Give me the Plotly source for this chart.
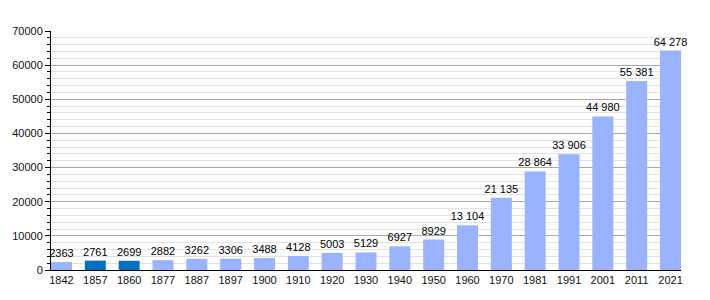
import plotly.graph_objects as go

years = ["1842", "1857", "1860", "1877", "1887", "1897", "1900", "1910", "1920", "1930",
         "1940", "1950", "1960", "1970", "1981", "1991", "2001", "2011", "2021"]
population = [2363, 2761, 2699, 2882, 3262, 3306, 3488, 4128, 5003, 5129,
              6927, 8929, 13104, 21135, 28864, 33906, 44980, 55381, 64278]
highlighted = ["1857", "1860"]

LIGHT = "#99b3ff"
DARK = "#0070c0"


def fmt(v):
    if v >= 10000:
        return f"{v:,}".replace(",", " ")
    return str(v)


colors = [DARK if y in highlighted else LIGHT for y in years]
labels = [fmt(v) for v in population]

fig = go.Figure()
fig.add_bar(
    x=years, y=population, marker_color=colors, marker_line_width=0,
    text=labels, textposition="outside", textfont=dict(color="#000", size=11),
    constraintext="none", textangle=0,
    cliponaxis=False, width=0.62,
)

fig.update_layout(
    width=710, height=300,
    margin=dict(l=51, r=29, t=31, b=30),
    paper_bgcolor="white", plot_bgcolor="white",
    font=dict(family="Liberation Sans, Arial, sans-serif", size=11, color="#111"),
    showlegend=False,
)
fig.update_xaxes(
    type="category", range=[-0.31, 18.31],
    showline=True, linecolor="#000", linewidth=1,
    ticks="", showgrid=False, tickfont=dict(size=11, color="#111"),
)
fig.update_yaxes(
    range=[0, 70000], dtick=10000, tickformat="d",
    showline=True, linecolor="#000", linewidth=1,
    ticks="outside", ticklen=5, tickcolor="#000",
    showgrid=True, gridcolor="#a8a8a8", gridwidth=1,
    zeroline=False,
    minor=dict(dtick=2000, showgrid=True, gridcolor="#e2e2e2",
               ticks="outside", ticklen=3, tickcolor="#000"),
    tickfont=dict(size=11, color="#111"),
)

fig.write_html("out.html")
